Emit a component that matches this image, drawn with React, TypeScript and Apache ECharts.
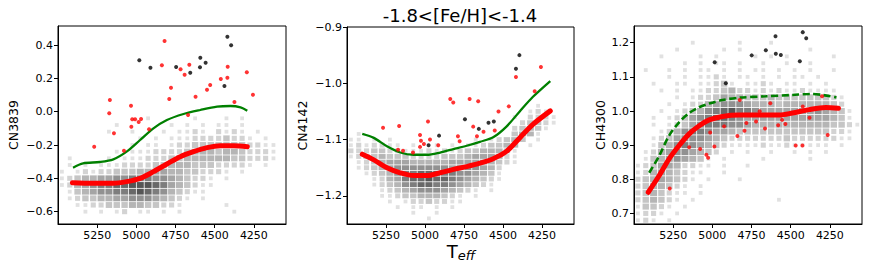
import React, { useEffect, useRef } from 'react';
import * as echarts from 'echarts';

const FONT = 'DejaVu Sans';

// ---------- ticks ----------
const tempTicks = [5250, 5000, 4750, 4500, 4250];
const cn3839Ticks = [-0.6, -0.4, -0.2, 0.0, 0.2, 0.4];
const cn4142Ticks = [-1.2, -1.1, -1.0, -0.9];
const ch4300Ticks = [0.7, 0.8, 0.9, 1.0, 1.1, 1.2];

// ---------- panel 1 : CN3839 ----------
const cn3839Red = [[5269,-0.21],[5169,0.07],[5173,-0.01],[5143,-0.13],[5079,-0.234],[5034,0.036],[5032,-0.09],[5026,-0.046],[5008,-0.046],[4985,-0.062],[4970,-0.044],[4919,-0.106],[4820,0.424],[4837,0.278],[4790,0.076],[4779,0.144],[4718,0.254],[4692,0.222],[4670,-0.02],[4662,0.282],[4622,0.09],[4549,0.132],[4529,0.16],[4461,0.196],[4419,0.204],[4417,0.27],[4374,0.058],[4295,0.236],[4256,0.102]];
const cn3839Black = [[4981,0.308],[4910,0.264],[4746,0.268],[4656,0.234],[4592,0.324],[4594,0.266],[4558,0.294],[4419,0.45],[4395,0.398],[4438,0.154]];
const cn3839Green = [[5404,-0.336],[5340,-0.31],[5233,-0.302],[5147,-0.286],[5062,-0.24],[4976,-0.17],[4891,-0.10],[4805,-0.05],[4699,-0.014],[4592,0.01],[4485,0.03],[4399,0.034],[4335,0.026],[4292,0.006]];
const cn3839Fit = [[5408,-0.426],[5276,-0.43],[5147,-0.43],[5062,-0.42],[4976,-0.40],[4891,-0.36],[4805,-0.314],[4720,-0.27],[4635,-0.24],[4549,-0.216],[4464,-0.204],[4378,-0.204],[4292,-0.21]];

// ---------- panel 2 : CN4142 ----------
const cn4142Red = [[5269,-1.079],[5166,-1.076],[5173,-1.118],[5141,-1.120],[5077,-1.123],[5032,-1.092],[5026,-1.102],[5007,-1.108],[5032,-1.113],[4981,-1.068],[4968,-1.100],[4915,-1.110],[4838,-1.028],[4819,-1.034],[4789,-1.094],[4778,-1.103],[4714,-1.028],[4691,-1.077],[4659,-1.032],[4667,-1.094],[4625,-1.086],[4553,-1.084],[4529,-1.050],[4463,-1.041],[4297,-1.014],[4417,-0.989],[4257,-0.971]];
const cn4142Black = [[4977,-1.110],[4910,-1.093],[4744,-1.064],[4655,-1.081],[4593,-1.070],[4559,-1.068],[4417,-0.974],[4395,-0.950]];
const cn4142Green = [[5402,-1.090],[5328,-1.097],[5244,-1.112],[5159,-1.123],[5073,-1.127],[4988,-1.127],[4903,-1.123],[4818,-1.117],[4733,-1.111],[4648,-1.104],[4563,-1.096],[4478,-1.077],[4393,-1.050],[4308,-1.024],[4197,-0.996]];
const cn4142Fit = [[5402,-1.126],[5328,-1.136],[5244,-1.150],[5159,-1.159],[5073,-1.164],[4988,-1.164],[4903,-1.159],[4818,-1.153],[4733,-1.148],[4648,-1.142],[4563,-1.134],[4478,-1.121],[4393,-1.097],[4308,-1.073],[4197,-1.049]];

// ---------- panel 3 : CH4300 ----------
const ch4300Red = [[5272,0.773],[5148,0.894],[5078,0.889],[5038,0.872],[5027,0.863],[5014,0.937],[4987,0.896],[4925,0.955],[4825,1.032],[4840,0.927],[4795,0.942],[4783,0.965],[4721,0.969],[4698,0.999],[4664,0.949],[4630,1.023],[4580,0.958],[4555,0.974],[4534,0.962],[4468,0.899],[4425,0.899],[4423,1.013],[4380,0.980],[4300,1.043],[4264,0.930]];
const ch4300Black = [[4985,1.143],[4914,1.081],[4749,1.163],[4659,1.178],[4597,1.219],[4595,1.168],[4563,1.164],[4442,1.146],[4423,1.231],[4401,1.213]];
const ch4300Green = [[5403,0.819],[5339,0.869],[5276,0.928],[5212,0.967],[5148,0.994],[5084,1.011],[5020,1.022],[4936,1.032],[4829,1.039],[4659,1.043],[4489,1.047],[4361,1.050],[4298,1.047],[4208,1.040]];
const ch4300Fit = [[5409,0.762],[5339,0.811],[5276,0.860],[5212,0.899],[5148,0.933],[5084,0.957],[5020,0.974],[4936,0.984],[4829,0.988],[4701,0.988],[4573,0.988],[4489,0.994],[4382,1.004],[4276,1.010],[4195,1.008]];

// ---------- background density (read as a coarse grid; digit = darkness) ----------
const densityTeff = [5475,5425,5375,5325,5275,5225,5175,5125,5075,5025,4975,4925,4875,4825,4775,4725,4675,4625,4575,4525,4475,4425,4375,4325,4275,4225,4175,4125,4075];

const cn3839DensRows = [-0.04,-0.08,-0.12,-0.16,-0.20,-0.24,-0.28,-0.32,-0.36,-0.40,-0.44,-0.48,-0.52,-0.56,-0.60];
const cn3839DensGrid = [
  '...........1.....1...1.1.....',
  '.......1......1.1.1.11.1.....',
  '......1..1...1.1121.2121.1...',
  '..........1.1.11122223221.1..',
  '.........1.11.12233333332211.',
  '.......1.1112222344434432221.',
  '.1....1.11122233444444332221.',
  '.1.1.11122223344433322221.1..',
  '1.12122333445544332221.1.....',
  '12344556677766543221.1.......',
  '12456778899987543211.........',
  '.134566778987643211..........',
  '.1233445566654321.1..........',
  '..11223334433221.....1.......',
  '...1.1.12.11.1.1......1......',
];

const cn4142DensRows = [-1.04,-1.05,-1.06,-1.07,-1.08,-1.09,-1.10,-1.11,-1.12,-1.13,-1.14,-1.15,-1.16,-1.17,-1.18,-1.19,-1.20,-1.21,-1.22,-1.23,-1.24];
const cn4142DensGrid = [
  '........................1....',
  '.......................121...',
  '.....................1.2221..',
  '......................23321..',
  '.....................23431...',
  '.1...................3441....',
  '11.1.1..........1.12343.1....',
  '1212211.1..1.1.1123344.1.....',
  '2223322111212123344431.......',
  '1233433322223334555421.......',
  '.123455544444555554321.......',
  '.1234566666665666542.........',
  '..123467788877665431.........',
  '...12457889887654321.........',
  '...1234678877654321..........',
  '....1234566654321.1..........',
  '....11233444321.1............',
  '.....1.12232211..............',
  '......1.11.1.1...............',
  '........1..1.................',
  '..........1..................',
];

const ch4300DensRows = [1.20,1.18,1.16,1.14,1.12,1.10,1.08,1.06,1.04,1.02,1.00,0.98,0.96,0.94,0.92,0.90,0.88,0.86,0.84,0.82,0.80,0.78,0.76,0.74,0.72,0.70,0.68];
const ch4300DensGrid = [
  '.......1.....1...1...........',
  '.....1.....1.1........1......',
  '...1....1.1....1.1.1.....1...',
  '......1.1.11.1..1..1..1......',
  '.1..1.1.11.1.1.11.1.1.1..1...',
  '....1.1.1121.11.1.1.11.1.....',
  '..1..11.11231.1121.11.1.1....',
  '...1.1.1122342212121121111...',
  '.....1.12235443334333333321..',
  '....1.122456665444344444432..',
  '...1.12346789776555555565431.',
  '..1.123567887655555555555431.',
  '..1.1235677766544444444443321',
  '...1246776554333333333333221.',
  '..12356665432222222322222211.',
  '..13467654321111211211111.1..',
  '.1245665432.1.1..1..1.1.1....',
  '.134565431.1....1.....1......',
  '1235542211.1..1..............',
  '124543211..1.................',
  '23454321.1...1...............',
  '2344321.1....................',
  '2343211.1....................',
  '234321.1..........1..........',
  '13321.1......................',
  '1221.1.......................',
  '121.1........................',
];

function cellsFrom(rows: number[], grid: string[]) {
  const out: number[][] = [];
  grid.forEach((line, r) => {
    for (let c = 0; c < line.length && c < densityTeff.length; c++) {
      const v = parseInt(line[c], 10);
      if (v > 0) out.push([densityTeff[c], rows[r], v]);
    }
  });
  return out;
}

const grayLevels = [255, 218, 200, 182, 163, 142, 118, 92, 66, 42];

const fmtY = (v: number) => (v < 0 ? '\u2212' : '') + Math.abs(v).toFixed(1);

export default function App() {
  const ref = useRef<HTMLDivElement>(null);
  useEffect(() => {
    if (!ref.current) return;
    const chart = echarts.init(ref.current, null, { renderer: 'svg' });

    const grids = [
      { left: 58, top: 26, width: 228, height: 198 },
      { left: 347, top: 27, width: 227, height: 197 },
      { left: 634, top: 26, width: 228, height: 198 },
    ];
    const yDefs = [
      { name: 'CN3839', min: -0.674, max: 0.514, ticks: cn3839Ticks, gap: 38 },
      { name: 'CN4142', min: -1.25, max: -0.9, ticks: cn4142Ticks, gap: 38 },
      { name: 'CH4300', min: 0.669, max: 1.249, ticks: ch4300Ticks, gap: 27 },
    ];
    const cellH = [6.7, 5.65, 6.84];
    const cellW = 7.84;

    const axisCommon = {
      axisLine: { show: true, onZero: false, lineStyle: { color: '#000', width: 1 } },
      axisTick: { show: true, length: 4, lineStyle: { color: '#000', width: 1 } },
      splitLine: { show: false },
    };

    const xAxis = grids.map((_, i) => ({
      type: 'value', gridIndex: i, inverse: true, min: 4045, max: 5500,
      ...axisCommon,
      axisTick: { ...axisCommon.axisTick, customValues: tempTicks },
      axisLabel: { customValues: tempTicks, color: '#000', fontSize: 11, fontFamily: FONT, margin: 6, formatter: (v: number) => String(v) },
    }));
    const yAxis = yDefs.map((d, i) => ({
      type: 'value', gridIndex: i, min: d.min, max: d.max,
      name: d.name, nameLocation: 'middle', nameGap: d.gap,
      nameTextStyle: { color: '#000', fontSize: 12.5, fontFamily: FONT },
      ...axisCommon,
      axisTick: { ...axisCommon.axisTick, customValues: d.ticks },
      axisLabel: { customValues: d.ticks, color: '#000', fontSize: 11, fontFamily: FONT, margin: 5, formatter: fmtY },
    }));

    const dens = [
      cellsFrom(cn3839DensRows, cn3839DensGrid),
      cellsFrom(cn4142DensRows, cn4142DensGrid),
      cellsFrom(ch4300DensRows, ch4300DensGrid),
    ];
    const reds = [cn3839Red, cn4142Red, ch4300Red];
    const blacks = [cn3839Black, cn4142Black, ch4300Black];
    const greens = [cn3839Green, cn4142Green, ch4300Green];
    const fits = [cn3839Fit, cn4142Fit, ch4300Fit];

    const series: any[] = [];
    for (let i = 0; i < 3; i++) {
      const h = cellH[i];
      series.push({
        type: 'scatter', xAxisIndex: i, yAxisIndex: i, data: dens[i], silent: true, z: 1,
        symbol: 'rect',
        symbolSize: (val: number[]) => {
          const v = val[2];
          if (v >= 4) return [cellW - 0.8, h - 0.8];
          const s = 2.5 + 1.3 * v;
          return [Math.min(cellW - 0.8, s), Math.min(h - 0.8, s)];
        },
        itemStyle: {
          color: (p: any) => {
            const g = grayLevels[p.value[2]];
            return `rgb(${g},${g},${g})`;
          },
        },
      });
      series.push({
        type: 'line', xAxisIndex: i, yAxisIndex: i, data: greens[i], smooth: 0.3, symbol: 'none', z: 3,
        lineStyle: { color: '#008000', width: i === 2 ? 2.6 : 2.3, type: i === 2 ? [7, 3.5] : 'solid' },
      });
      series.push({
        type: 'line', xAxisIndex: i, yAxisIndex: i, data: fits[i], smooth: 0.3, symbol: 'none', z: 4,
        lineStyle: { color: '#ff0000', width: 5, cap: 'round' },
      });
      series.push({
        type: 'scatter', xAxisIndex: i, yAxisIndex: i, data: reds[i], symbol: 'circle', symbolSize: 4, z: 5,
        itemStyle: { color: '#ff0000' },
      });
      series.push({
        type: 'scatter', xAxisIndex: i, yAxisIndex: i, data: blacks[i], symbol: 'circle', symbolSize: 4, z: 5,
        itemStyle: { color: '#000000' },
      });
    }

    chart.setOption({
      animation: false,
      backgroundColor: '#ffffff',
      grid: grids.map((g) => ({ ...g, show: true, borderColor: '#000', borderWidth: 1, backgroundColor: 'transparent' })),
      xAxis,
      yAxis,
      series,
      graphic: [
        {
          type: 'text', x: 460, y: 15,
          style: { text: '-1.8<[Fe/H]<-1.4', fontSize: 18, fontFamily: FONT, fill: '#000',
            textAlign: 'center', textVerticalAlign: 'middle', align: 'center', verticalAlign: 'middle' },
        },
        {
          type: 'text', x: 461, y: 251,
          style: {
            text: '{t|T}{s|eff}', fill: '#000',
            textAlign: 'center', textVerticalAlign: 'middle', align: 'center', verticalAlign: 'middle',
            rich: {
              t: { fontSize: 18, fontFamily: FONT, fill: '#000' },
              s: { fontSize: 13, fontFamily: FONT, fontStyle: 'italic', fill: '#000', padding: [9, 0, 0, 0] },
            },
          },
        },
      ],
    });
    return () => chart.dispose();
  }, []);

  return <div ref={ref} style={{ position: 'absolute', left: 0, top: 0, width: 872, height: 273, background: '#fff' }} />;
}
